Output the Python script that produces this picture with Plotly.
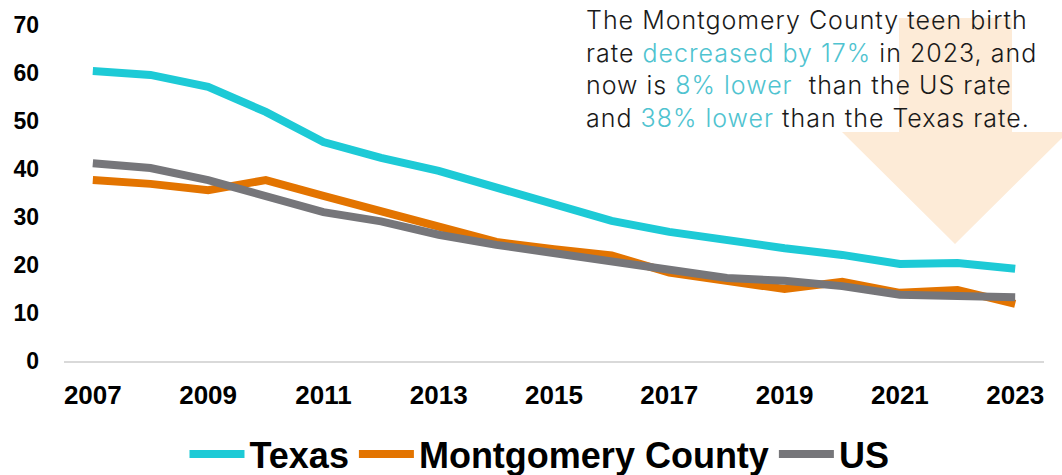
import plotly.graph_objects as go

years = list(range(2007, 2024))
texas = [60.4, 59.6, 57.1, 51.9, 45.6, 42.3, 39.6, 36.0, 32.5, 29.2, 26.9, 25.0, 23.5, 22.1, 20.2, 20.4, 19.2]
montgomery = [37.7, 36.9, 35.6, 37.7, 34.4, 31.1, 28.1, 24.8, 23.3, 22.0, 18.4, 16.9, 15.0, 16.5, 14.2, 14.8, 11.9]
us = [41.2, 40.2, 37.7, 34.2, 31.0, 29.1, 26.3, 24.2, 22.4, 20.5, 18.8, 17.3, 16.7, 15.6, 13.8, 13.5, 13.3]
y_ticks = [0, 10, 20, 30, 40, 50, 60, 70]
x_ticks = [2007, 2009, 2011, 2013, 2015, 2017, 2019, 2021, 2023]

series = [
    ("Texas", texas, "#1DCAD6"),
    ("Montgomery County", montgomery, "#E37400"),
    ("US", us, "#76767A"),
]

fig = go.Figure()
for name, vals, col in series:
    fig.add_trace(go.Scatter(x=years, y=vals, mode="lines", name=name,
                             line=dict(color=col, width=8)))

W, H = 1062, 475
L, R, T, B = 64, 18, 25, 114
pw, ph = W - L - R, H - T - B

def px(x):
    return (x - L) / pw

def py(y):
    return (H - B - y) / ph

# down arrow decoration
arrow = (f"M {px(899)},{py(18)} L {px(1012)},{py(18)} L {px(1012)},{py(132)} "
         f"L {px(1068)},{py(132)} L {px(955)},{py(244)} L {px(842)},{py(132)} "
         f"L {px(899)},{py(132)} Z")
fig.add_shape(type="path", path=arrow, xref="paper", yref="paper",
              fillcolor="#FDEBD7", line=dict(width=0), layer="below")

teal = "#4FC3D0"
ls = "letter-spacing:1px"
def blk(s):
    return f"<span style='{ls}'>{s}</span>"
def tl(s):
    return f"<span style='color:{teal};{ls}'>{s}</span>"
txt = (blk("The Montgomery County teen birth") + "<br>"
       + blk("rate ") + tl("decreased by 17%") + blk(" in 2023, and") + "<br>"
       + blk("now is ") + tl("8% lower") + blk("  than the US rate") + "<br>"
       + blk("and ") + tl("38% lower") + blk(" than the Texas rate."))
fig.add_annotation(text=txt, xref="paper", yref="paper", x=px(584), y=py(3),
                   xanchor="left", yanchor="top", align="left", showarrow=False,
                   font=dict(family="Inter", size=25, color="#1A1A1A", weight=300))

fig.update_layout(
    width=W, height=H,
    margin=dict(l=L, r=R, t=T, b=B, autoexpand=False),
    paper_bgcolor="white", plot_bgcolor="white",
    showlegend=True,
    legend=dict(orientation="h", xref="container", yref="container",
                x=0.508, y=0.044, xanchor="center", yanchor="middle",
                font=dict(family="Liberation Sans", size=36, color="black", weight="bold"),
                itemwidth=55, tracegroupgap=0),
    xaxis=dict(range=[2006.5, 2023.5], tickvals=x_ticks, ticktext=[str(v) for v in x_ticks],
               showgrid=False, zeroline=False, showline=True, linecolor="#D9D9D9", linewidth=2,
               ticks="", ticklabelstandoff=10, automargin=False,
               tickfont=dict(family="Liberation Sans", size=26, color="black", weight="bold")),
    yaxis=dict(range=[0, 70], tickvals=y_ticks, showgrid=False, zeroline=False, showline=False,
               ticks="", ticklabelstandoff=24, automargin=False,
               tickfont=dict(family="Liberation Sans", size=23, color="black", weight="bold")),
)

fig.write_html("out.html", config={"displayModeBar": False},
               post_script="document.body.style.margin='0';document.body.style.overflow='hidden';")
